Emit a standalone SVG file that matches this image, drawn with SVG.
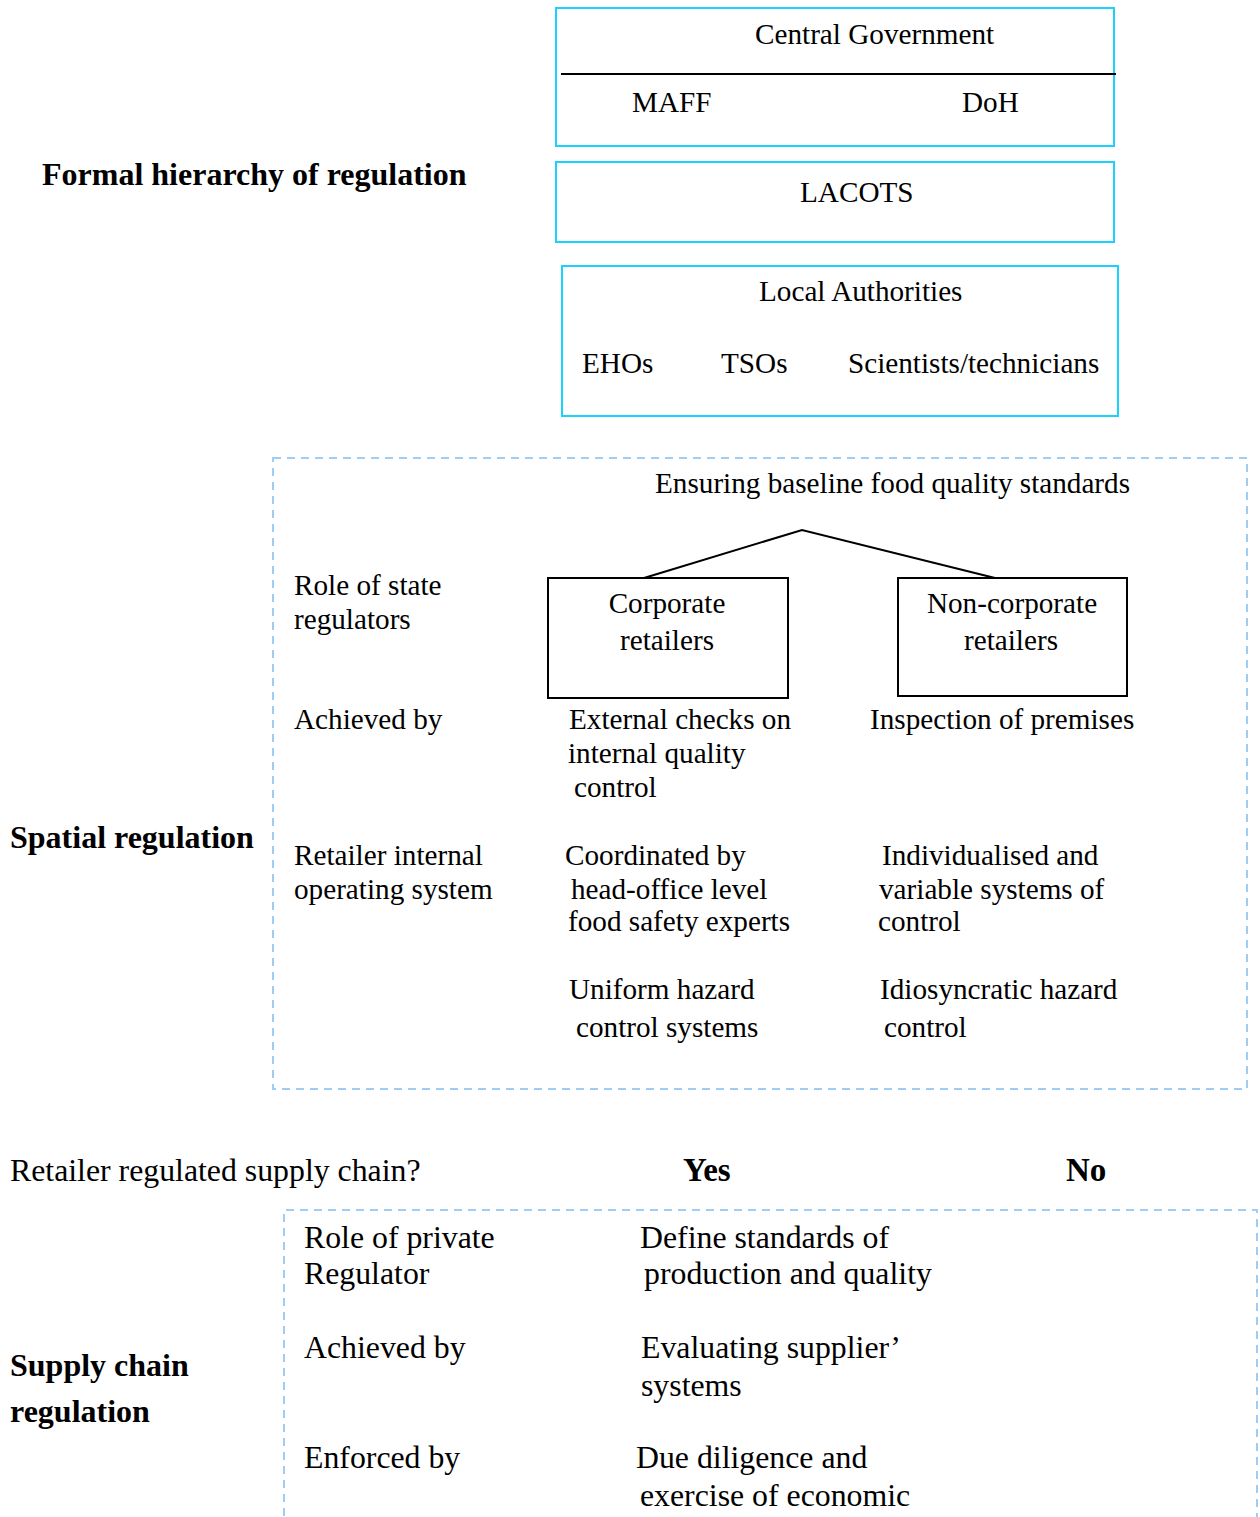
<svg xmlns="http://www.w3.org/2000/svg" width="1260" height="1517" viewBox="0 0 1260 1517">
<style>
text{font-family:"Liberation Serif","Times New Roman",serif;font-size:29.2px;fill:#000}
.b{font-weight:bold;font-size:32px}
.l{font-size:31.8px}
.cy{fill:none;stroke:#1ad1ff;stroke-width:2}
.bk{fill:none;stroke:#000;stroke-width:2}
.ds{fill:none;stroke:#9fcdf5;stroke-width:2;stroke-dasharray:8 6}
</style>
<rect width="1260" height="1517" fill="#fff"/>
<g id="central-government">
<rect class="cy" x="556" y="8" width="558" height="138"/>
<line x1="561" y1="74" x2="1116" y2="74" stroke="#000" stroke-width="2"/>
<text x="755" y="44">Central Government</text>
<text x="632" y="112">MAFF</text>
<text x="962" y="112">DoH</text>
</g>
<g id="lacots">
<rect class="cy" x="556" y="162" width="558" height="80"/>
<text x="800" y="202">LACOTS</text>
</g>
<g id="local-authorities">
<rect class="cy" x="562" y="266" width="556" height="150"/>
<text x="759" y="301">Local Authorities</text>
<text x="582" y="373">EHOs</text>
<text x="721" y="373">TSOs</text>
<text x="848" y="373">Scientists/technicians</text>
</g>
<text class="b" x="42" y="185">Formal hierarchy of regulation</text>
<g id="spatial">
<rect class="ds" x="273" y="458" width="974" height="631"/>
<text x="655" y="493">Ensuring baseline food quality standards</text>
<text x="294" y="595">Role of state</text>
<text x="294" y="629">regulators</text>
<text x="294" y="729">Achieved by</text>
<text x="294" y="865">Retailer internal</text>
<text x="294" y="899">operating system</text>
<text x="569" y="729">External checks on</text>
<text x="568" y="763">internal quality</text>
<text x="574" y="797">control</text>
<text x="870" y="729">Inspection of premises</text>
<text x="565" y="865">Coordinated by</text>
<text x="571" y="899">head-office level</text>
<text x="568" y="931">food safety experts</text>
<text x="882" y="865">Individualised and</text>
<text x="879" y="899">variable systems of</text>
<text x="878" y="931">control</text>
<text x="569" y="999">Uniform hazard</text>
<text x="576" y="1037">control systems</text>
<text x="880" y="999">Idiosyncratic hazard</text>
<text x="884" y="1037">control</text>
</g>
<g id="corporate">
<rect class="bk" x="548" y="578" width="240" height="120"/>
<text x="667" y="613" text-anchor="middle">Corporate</text>
<text x="667" y="650" text-anchor="middle">retailers</text>
</g>
<g id="non-corporate">
<rect class="bk" x="898" y="578" width="229" height="118"/>
<text x="1012" y="613" text-anchor="middle">Non-corporate</text>
<text x="1011" y="650" text-anchor="middle">retailers</text>
</g>
<g id="connectors">
<polyline class="bk" points="644,578 802,530 995,578"/>
</g>
<text class="b" x="10" y="848">Spatial regulation</text>
<text class="l" x="10" y="1181">Retailer regulated supply chain?</text>
<text class="b" x="683" y="1181" style="font-size:33px">Yes</text>
<text class="b" x="1066" y="1181" style="font-size:33px">No</text>
<g id="supply-chain">
<path class="ds" d="M284,1530 V1210 H1257 V1530"/>
<text class="l" x="304" y="1248">Role of private</text>
<text class="l" x="304" y="1284">Regulator</text>
<text class="l" x="304" y="1358">Achieved by</text>
<text class="l" x="304" y="1468">Enforced by</text>
<text class="l" x="640" y="1248">Define standards of</text>
<text class="l" x="644" y="1284">production and quality</text>
<text class="l" x="641" y="1358">Evaluating supplier’</text>
<text class="l" x="641" y="1396">systems</text>
<text class="l" x="636" y="1468">Due diligence and</text>
<text class="l" x="640" y="1506">exercise of economic</text>
</g>
<text class="b" x="10" y="1376">Supply chain</text>
<text class="b" x="10" y="1422">regulation</text>
</svg>
